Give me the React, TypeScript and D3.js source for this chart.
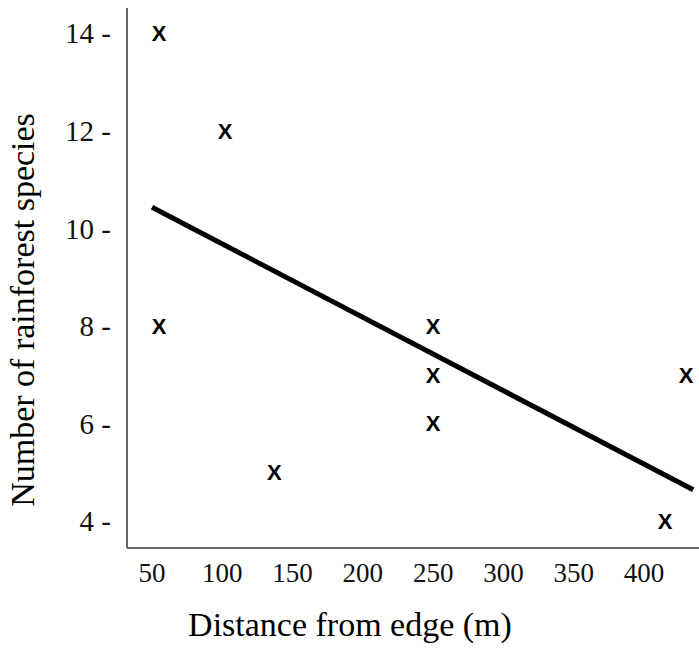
import React from 'react';
import * as d3 from 'd3';

// distance from edge (m) and number of rainforest species at each site
const distances = [55, 55, 102, 137, 250, 250, 250, 415, 430];
const species = [14, 8, 12, 5, 8, 7, 6, 4, 7];

// fitted trend line end points
const trendX = [50, 435];
const trendY = [10.43, 4.64];

const xTicks = [50, 100, 150, 200, 250, 300, 350, 400];
const yTicks = [4, 6, 8, 10, 12, 14];

const width = 699;
const height = 648;

const App = () => {
  const x = d3.scaleLinear().domain([50, 400]).range([152, 644]);
  const y = d3.scaleLinear().domain([4, 14]).range([521, 33]);

  const axisX = 127;
  const axisY = 548;

  const points = distances.map((d, i) => ({ d, s: species[i] }));
  const trend = trendX.map((d, i) => [d, trendY[i]] as [number, number]);

  const line = d3.line<[number, number]>()
    .x(p => x(p[0]))
    .y(p => y(p[1]));

  const serif = '"Liberation Serif", "Times New Roman", serif';

  return (
    <svg
      width={width}
      height={height}
      style={{ position: 'absolute', left: 0, top: 0, background: '#fff' }}
    >
      {/* axes */}
      <line x1={axisX} y1={8} x2={axisX} y2={axisY} stroke="#666" strokeWidth={2} />
      <line x1={axisX} y1={axisY} x2={width} y2={axisY} stroke="#666" strokeWidth={2} />

      {/* y tick labels */}
      {yTicks.map(t => (
        <text
          key={t}
          x={111}
          y={y(t)}
          dy="0.36em"
          textAnchor="end"
          fontFamily={serif}
          fontSize={29}
          fill="#111"
        >
          {`${t} -`}
        </text>
      ))}

      {/* x tick labels */}
      {xTicks.map(t => (
        <text
          key={t}
          x={x(t)}
          y={582}
          textAnchor="middle"
          fontFamily={serif}
          fontSize={27}
          fill="#111"
        >
          {t}
        </text>
      ))}

      {/* trend line */}
      <path d={line(trend) || ''} fill="none" stroke="#000" strokeWidth={5} />

      {/* data markers */}
      {points.map((p, i) => (
        <text
          key={i}
          x={x(p.d)}
          y={y(p.s)}
          dy={8}
          textAnchor="middle"
          fontFamily='"Liberation Sans", Arial, sans-serif'
          fontWeight="bold"
          fontSize={22}
          fill="#000"
        >
          X
        </text>
      ))}

      {/* axis titles */}
      <text
        x={350}
        y={636}
        textAnchor="middle"
        fontFamily={serif}
        fontSize={34}
        fill="#000"
      >
        Distance from edge (m)
      </text>
      <text
        transform={`translate(34, 310) rotate(-90)`}
        textAnchor="middle"
        fontFamily={serif}
        fontSize={34}
        fill="#000"
      >
        Number of rainforest species
      </text>
    </svg>
  );
};

export default App;
